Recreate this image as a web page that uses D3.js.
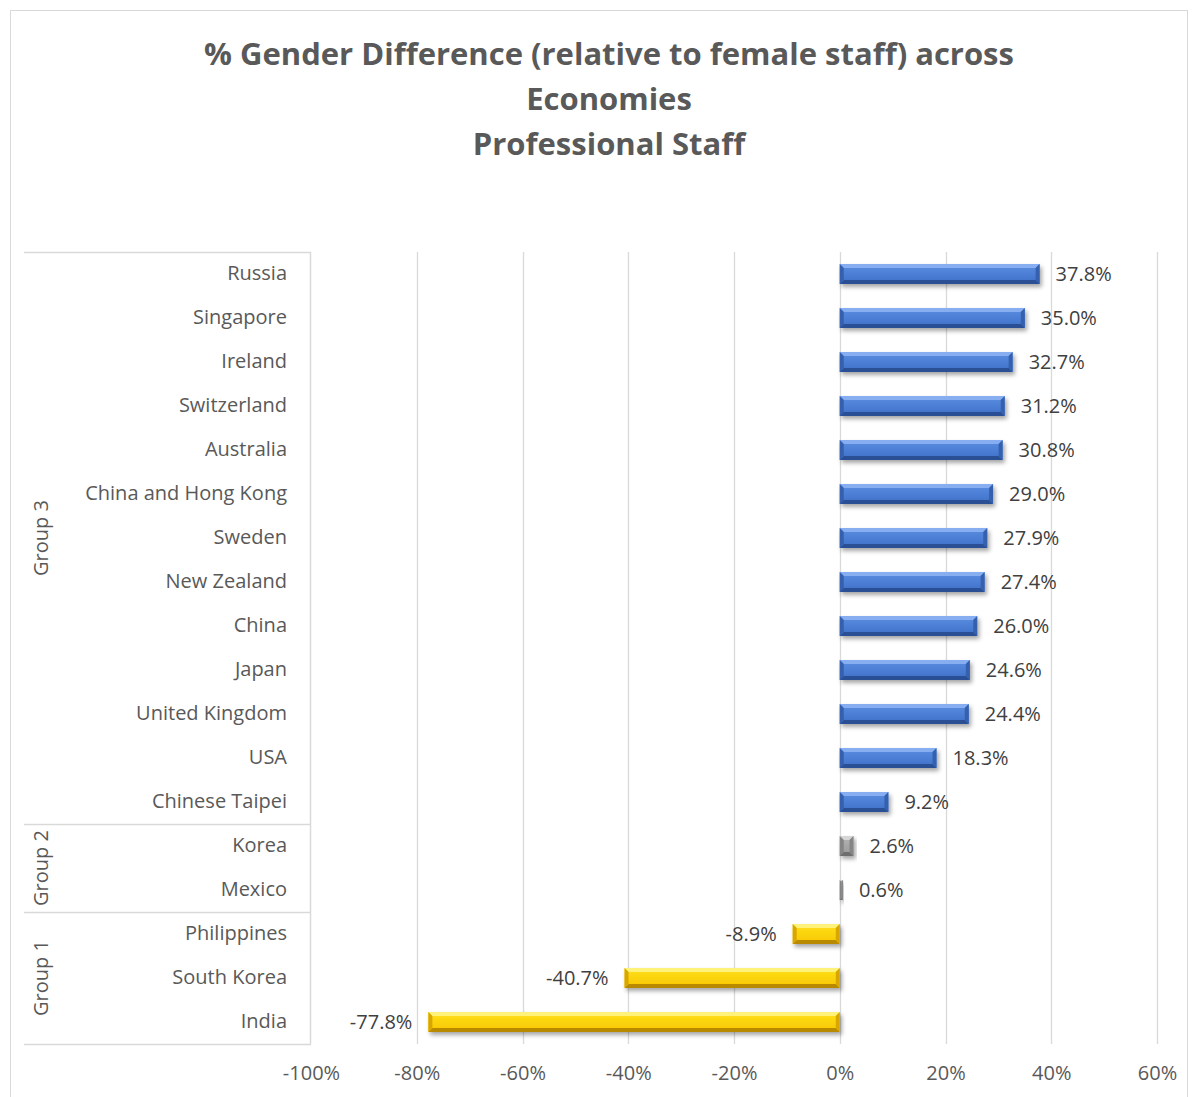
<!DOCTYPE html>
<html>
<head>
<meta charset="utf-8">
<script src="https://cdn.jsdelivr.net/npm/d3@7"></script>
<style>
  html, body { margin: 0; padding: 0; background: #fff; }
  svg { display: block; }
  text { font-family: "Open Sans", Lato, sans-serif; }
</style>
</head>
<body>
<svg id="chart" width="1195" height="1097"></svg>
<script>
// ---- Data ----
const titleLines = ["% Gender Difference (relative to female staff) across", "Economies", "Professional Staff"];
const categories = ["Russia", "Singapore", "Ireland", "Switzerland", "Australia", "China and Hong Kong",
  "Sweden", "New Zealand", "China", "Japan", "United Kingdom", "USA", "Chinese Taipei",
  "Korea", "Mexico", "Philippines", "South Korea", "India"];
const values = [37.8, 35.0, 32.7, 31.2, 30.8, 29.0, 27.9, 27.4, 26.0, 24.6, 24.4, 18.3, 9.2,
  2.6, 0.6, -8.9, -40.7, -77.8];
const groupOf = ["Group 3", "Group 3", "Group 3", "Group 3", "Group 3", "Group 3", "Group 3",
  "Group 3", "Group 3", "Group 3", "Group 3", "Group 3", "Group 3",
  "Group 2", "Group 2", "Group 1", "Group 1", "Group 1"];
const groupNames = ["Group 3", "Group 2", "Group 1"];
const tickValues = [-100, -80, -60, -40, -20, 0, 20, 40, 60];

// ---- Styles ----
const FONT = "'Open Sans', Lato, sans-serif";
const palette = {
  "Group 3": { top: "#86aef0", face1: "#5b8fe2", face2: "#3d6fc8", bottom: "#2a4f94", side: "#3560ad" },
  "Group 2": { top: "#d6d6d6", face1: "#b4b4b4", face2: "#999999", bottom: "#6e6e6e", side: "#858585" },
  "Group 1": { top: "#fff27a", face1: "#ffe11a", face2: "#f7c500", bottom: "#b98a00", side: "#d9a600" }
};

const svg = d3.select("#chart");

// outer border
svg.append("rect").attr("x", 10.5).attr("y", 10.5).attr("width", 1177).attr("height", 1100)
  .attr("fill", "#fff").attr("stroke", "#d9d9d9").attr("stroke-width", 1);

// title
svg.append("g").selectAll("text").data(titleLines).join("text")
  .attr("x", 609).attr("y", (d, i) => 65 + i * 45)
  .attr("text-anchor", "middle")
  .attr("font-size", 31).attr("font-weight", "bold").attr("fill", "#595959")
  .text(d => d);

const plotLeft = 311, plotRight = 1157, plotTop = 252, plotBottom = 1044;

const x = d3.scaleLinear().domain([-100, 60]).range([plotLeft, plotRight]);
const y = d3.scaleBand().domain(categories).range([plotTop, plotBottom]).paddingInner(0.55).paddingOuter(0.275);
const step = y.step();

// defs
const defs = svg.append("defs");
const f = defs.append("filter").attr("id", "shadow").attr("x", "-20%").attr("y", "-50%").attr("width", "140%").attr("height", "200%");
f.append("feDropShadow").attr("dx", 2).attr("dy", 3).attr("stdDeviation", 2).attr("flood-color", "#000").attr("flood-opacity", 0.35);
groupNames.forEach((g, i) => {
  const lg = defs.append("linearGradient").attr("id", "grad" + i).attr("x1", 0).attr("y1", 0).attr("x2", 0).attr("y2", 1);
  lg.append("stop").attr("offset", "0%").attr("stop-color", palette[g].face1);
  lg.append("stop").attr("offset", "100%").attr("stop-color", palette[g].face2);
});

// gridlines
svg.append("g").selectAll("line").data(tickValues.filter(v => v > -100)).join("line")
  .attr("x1", d => Math.round(x(d)) + 0.5).attr("x2", d => Math.round(x(d)) + 0.5)
  .attr("y1", plotTop).attr("y2", plotBottom)
  .attr("stroke", "#d9d9d9").attr("stroke-width", 1.3);

// x axis tick labels
const xAxis = d3.axisBottom(x).tickValues(tickValues).tickFormat(d => d + "%").tickSize(0).tickPadding(0);
const gx = svg.append("g").attr("transform", `translate(0, ${plotBottom + 22})`).call(xAxis);
gx.select(".domain").remove();
gx.selectAll("text").attr("font-size", 20).attr("fill", "#595959").attr("font-family", FONT);

// category box lines
const boxColor = "#d9d9d9";
svg.append("line").attr("x1", plotLeft - 0.5).attr("x2", plotLeft - 0.5).attr("y1", plotTop).attr("y2", plotBottom)
  .attr("stroke", boxColor).attr("stroke-width", 1.5);
const groupBounds = groupNames.map(g => {
  const idx = categories.map((c, i) => i).filter(i => groupOf[i] === g);
  const top = y(categories[idx[0]]) - (step - y.bandwidth()) / 2;
  const bot = y(categories[idx[idx.length - 1]]) + y.bandwidth() + (step - y.bandwidth()) / 2;
  return { g, top, bot };
});
const boundaryYs = [plotTop].concat(groupBounds.map(b => b.bot));
svg.append("g").selectAll("line").data(boundaryYs).join("line")
  .attr("x1", 24).attr("x2", plotLeft)
  .attr("y1", d => Math.round(d) + 0.5).attr("y2", d => Math.round(d) + 0.5)
  .attr("stroke", boxColor).attr("stroke-width", 1.5);

// group labels
svg.append("g").selectAll("text").data(groupBounds).join("text")
  .attr("transform", d => `translate(48, ${(d.top + d.bot) / 2}) rotate(-90)`)
  .attr("text-anchor", "middle")
  .attr("font-size", 20).attr("fill", "#595959")
  .text(d => d.g);

// category labels
const yAxis = d3.axisLeft(y).tickSize(0).tickPadding(0);
const gy = svg.append("g").attr("transform", `translate(${plotLeft - 24}, 0)`).call(yAxis);
gy.select(".domain").remove();
gy.selectAll("text").attr("font-size", 20).attr("fill", "#595959").attr("font-family", FONT);

// bars
const data = categories.map((c, i) => ({ c, v: values[i], g: groupOf[i] }));
const bars = svg.append("g").selectAll("g").data(data).join("g").attr("filter", "url(#shadow)");
bars.each(function (d) {
  const gEl = d3.select(this);
  const x0 = Math.min(x(0), x(d.v)), x1 = Math.max(x(0), x(d.v));
  const y0 = y(d.c), y1 = y(d.c) + y.bandwidth();
  const p = palette[d.g];
  const gi = groupNames.indexOf(d.g);
  const b = Math.min(4, (x1 - x0) / 2, (y1 - y0) / 2);
  gEl.append("rect").attr("x", x0).attr("y", y0).attr("width", x1 - x0).attr("height", y1 - y0)
    .attr("fill", `url(#grad${gi})`);
  const poly = pts => pts.map(q => q.join(",")).join(" ");
  gEl.append("polygon").attr("points", poly([[x0, y0], [x1, y0], [x1 - b, y0 + b], [x0 + b, y0 + b]])).attr("fill", p.top);
  gEl.append("polygon").attr("points", poly([[x0, y1], [x1, y1], [x1 - b, y1 - b], [x0 + b, y1 - b]])).attr("fill", p.bottom);
  gEl.append("polygon").attr("points", poly([[x0, y0], [x0 + b, y0 + b], [x0 + b, y1 - b], [x0, y1]])).attr("fill", p.side);
  gEl.append("polygon").attr("points", poly([[x1, y0], [x1 - b, y0 + b], [x1 - b, y1 - b], [x1, y1]])).attr("fill", p.side);
});

// data labels
svg.append("g").selectAll("text").data(data).join("text")
  .attr("x", d => d.v >= 0 ? x(d.v) + 16 : x(d.v) - 16)
  .attr("y", d => y(d.c) + y.bandwidth() / 2)
  .attr("dy", "0.35em")
  .attr("text-anchor", d => d.v >= 0 ? "start" : "end")
  .attr("font-size", 20).attr("fill", "#404040")
  .text(d => d.v.toFixed(1) + "%");
</script>
</body>
</html>
